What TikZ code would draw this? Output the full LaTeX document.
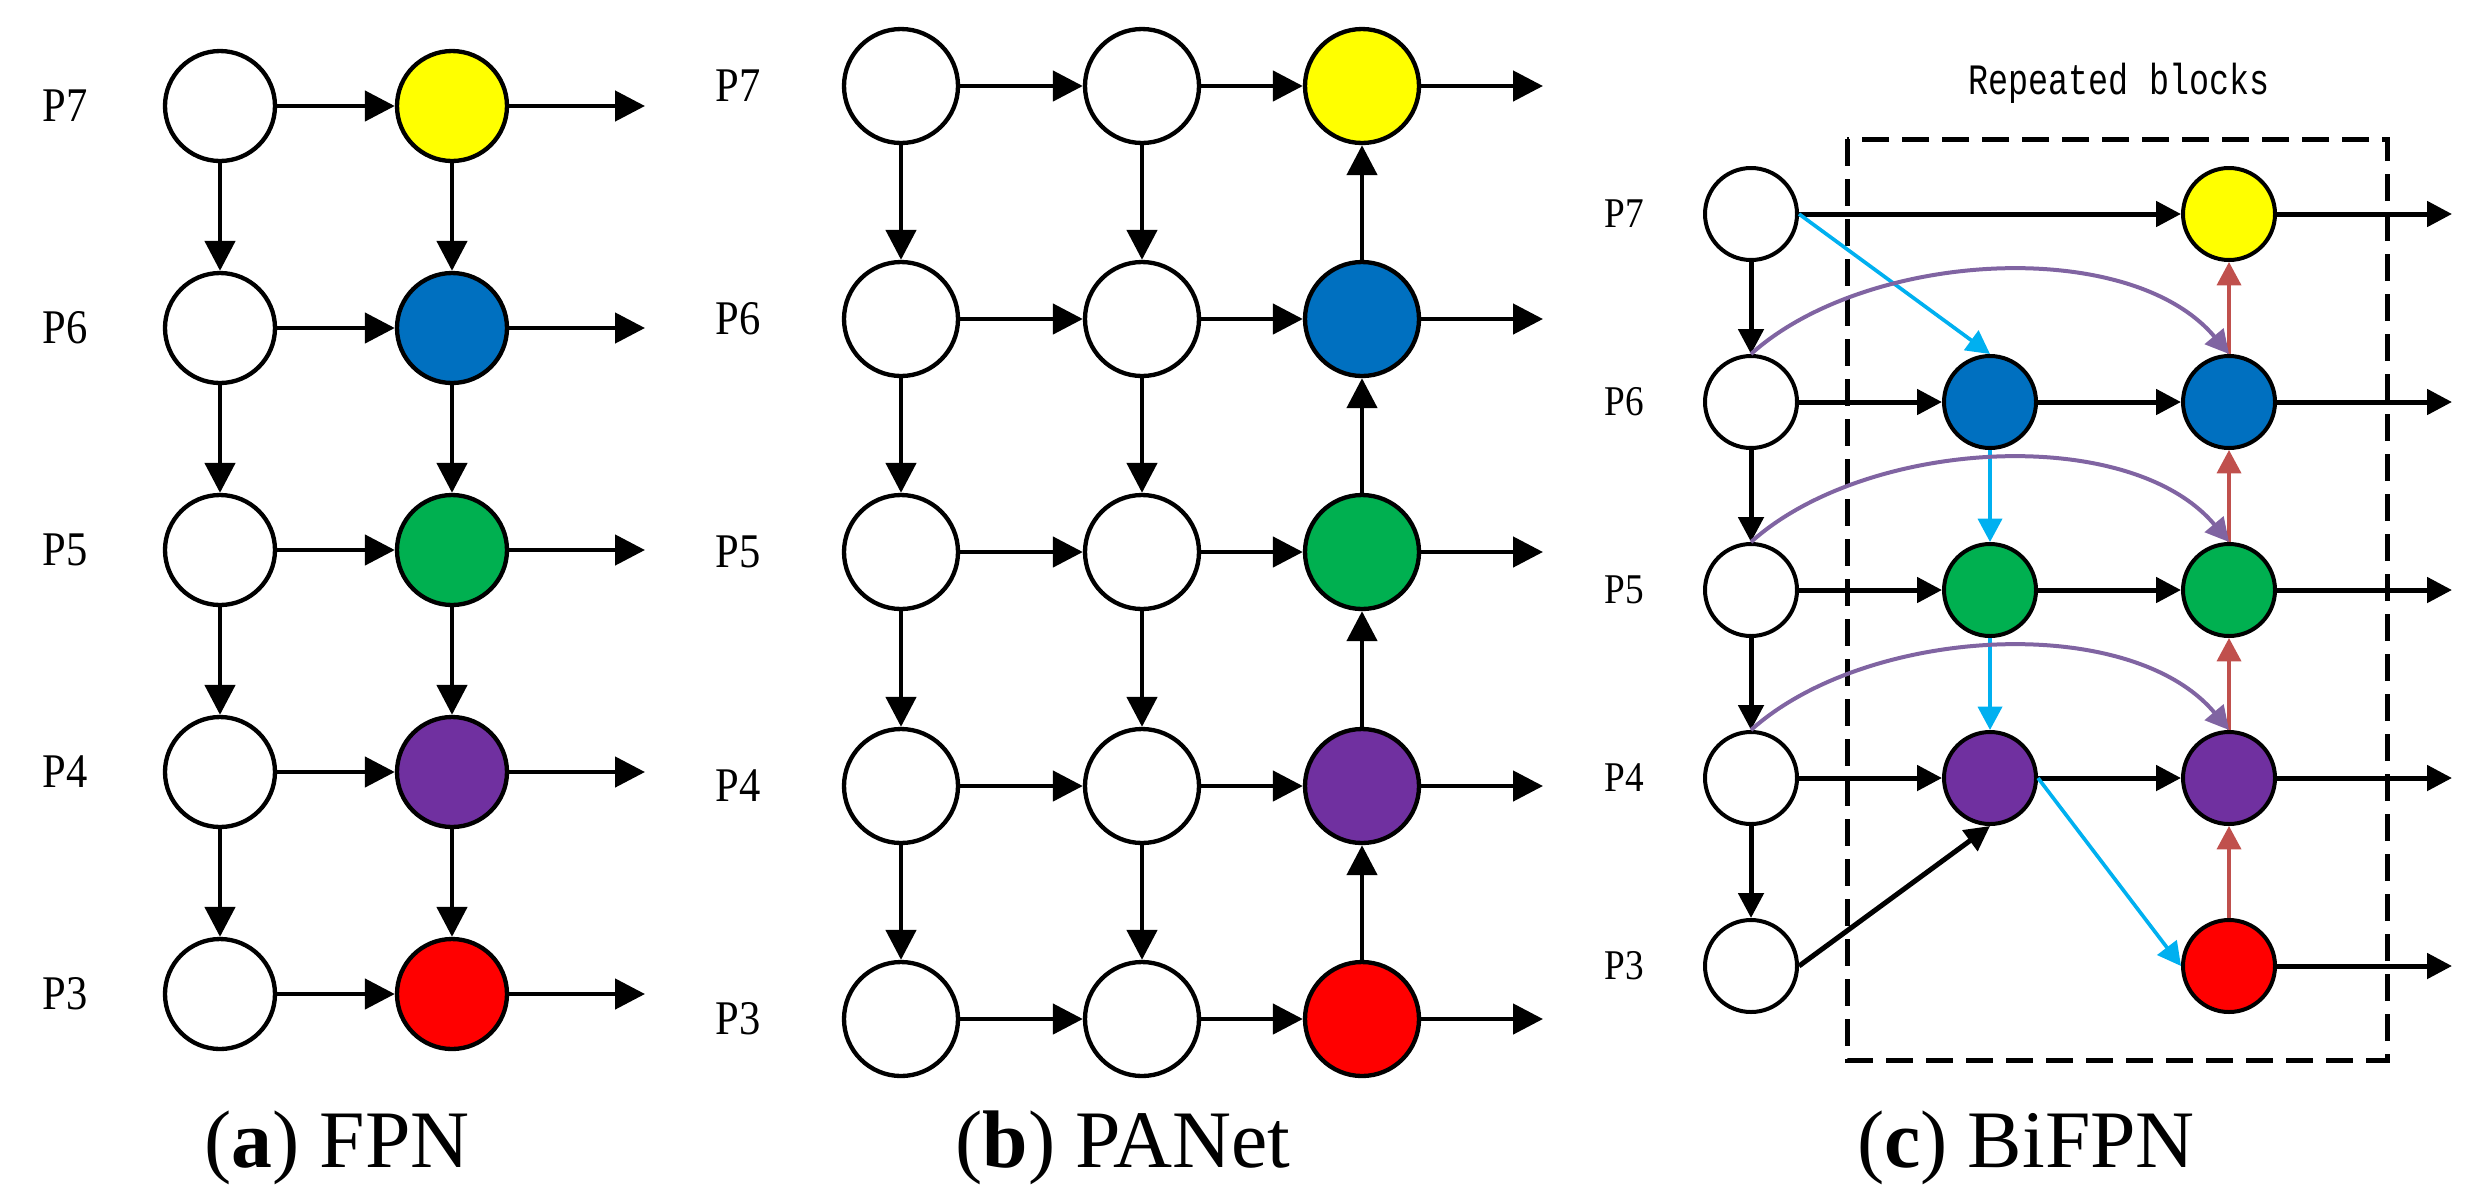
\documentclass[tikz,border=0pt]{standalone}
\usepackage{fontspec}
\setmainfont{Liberation Serif}
\newfontfamily\plabelfont[FakeStretch=0.88]{Liberation Serif}
\newfontfamily\blockfont[FakeStretch=0.77]{Liberation Mono}
\usetikzlibrary{arrows.meta}

\definecolor{fyellow}{RGB}{255,255,0}
\definecolor{fblue}{RGB}{0,112,192}
\definecolor{fgreen}{RGB}{0,176,80}
\definecolor{fpurple}{RGB}{112,48,160}
\definecolor{fred}{RGB}{255,0,0}
\definecolor{lcyan}{RGB}{0,176,240}
\definecolor{lred}{RGB}{192,80,77}
\definecolor{lpurple}{RGB}{128,100,162}

\tikzset{
  anode/.style={circle, draw, line width=1.3pt, minimum size=33pt, inner sep=0pt, fill=white},
  bnode/.style={circle, draw, line width=1.3pt, minimum size=34.2pt, inner sep=0pt, fill=white},
  cnode/.style={circle, draw, line width=1.2pt, minimum size=27.6pt, inner sep=0pt, fill=white},
  link/.style={line width=1.4pt, -{Triangle[length=9pt,width=9pt]}},
  clink/.style={line width=1.5pt, -{Triangle[length=7.5pt,width=7.5pt]}},
  cyanlink/.style={draw=lcyan, line width=1.1pt, -{Triangle[length=7pt,width=7.2pt,fill=lcyan]}},
  redlink/.style={draw=lred, line width=1.1pt, -{Triangle[length=7pt,width=7.2pt,fill=lred]}},
  skiplink/.style={draw=lpurple, line width=1.2pt, -{Triangle[length=7pt,width=7.2pt,fill=lpurple]}},
  plabel/.style={font=\plabelfont\fontsize{14.5}{14.5}\selectfont},
  pclabel/.style={font=\plabelfont\fontsize{12.7}{12.7}\selectfont},
  caption/.style={anchor=base, font=\fontsize{24.5}{24.5}\selectfont}
}

\begin{document}
\begin{tikzpicture}[x=0.3pt,y=0.3pt,yscale=-1,xscale=1]
\useasboundingbox (0,0) rectangle (2477,1201);

%%%%% (a) FPN
% Text Node
\node[plabel] (aP7) at (65,106) {P7};
\node[plabel] (aP6) at (65,328) {P6};
\node[plabel] (aP5) at (65,550) {P5};
\node[plabel] (aP4) at (65,772) {P4};
\node[plabel] (aP3) at (65,994) {P3};
%Shape: Circle
\node[anode] (a17) at (220,106) {};
\node[anode] (a16) at (220,328) {};
\node[anode] (a15) at (220,550) {};
\node[anode] (a14) at (220,772) {};
\node[anode] (a13) at (220,994) {};
\node[anode, fill=fyellow] (a27) at (452,106) {};
\node[anode, fill=fblue] (a26) at (452,328) {};
\node[anode, fill=fgreen] (a25) at (452,550) {};
\node[anode, fill=fpurple] (a24) at (452,772) {};
\node[anode, fill=fred] (a23) at (452,994) {};
\coordinate (ao7) at (645,106);
\coordinate (ao6) at (645,328);
\coordinate (ao5) at (645,550);
\coordinate (ao4) at (645,772);
\coordinate (ao3) at (645,994);
%Straight Lines
\draw[link] (a17) -- (a16);
\draw[link] (a16) -- (a15);
\draw[link] (a15) -- (a14);
\draw[link] (a14) -- (a13);
\draw[link] (a27) -- (a26);
\draw[link] (a26) -- (a25);
\draw[link] (a25) -- (a24);
\draw[link] (a24) -- (a23);
\draw[link] (a17) -- (a27);
\draw[link] (a16) -- (a26);
\draw[link] (a15) -- (a25);
\draw[link] (a14) -- (a24);
\draw[link] (a13) -- (a23);
\draw[link] (a27) -- (ao7);
\draw[link] (a26) -- (ao6);
\draw[link] (a25) -- (ao5);
\draw[link] (a24) -- (ao4);
\draw[link] (a23) -- (ao3);
% Text Node
\node[caption] (acap) at (337,1167) {({\bfseries a}) FPN};

%%%%% (b) PANet
% Text Node
\node[plabel] (bP7) at (738,86) {P7};
\node[plabel] (bP6) at (738,319) {P6};
\node[plabel] (bP5) at (738,552) {P5};
\node[plabel] (bP4) at (738,786) {P4};
\node[plabel] (bP3) at (738,1019) {P3};
%Shape: Circle
\node[bnode] (b17) at (901,86) {};
\node[bnode] (b16) at (901,319) {};
\node[bnode] (b15) at (901,552) {};
\node[bnode] (b14) at (901,786) {};
\node[bnode] (b13) at (901,1019) {};
\node[bnode] (b27) at (1142,86) {};
\node[bnode] (b26) at (1142,319) {};
\node[bnode] (b25) at (1142,552) {};
\node[bnode] (b24) at (1142,786) {};
\node[bnode] (b23) at (1142,1019) {};
\node[bnode, fill=fyellow] (b37) at (1362,86) {};
\node[bnode, fill=fblue] (b36) at (1362,319) {};
\node[bnode, fill=fgreen] (b35) at (1362,552) {};
\node[bnode, fill=fpurple] (b34) at (1362,786) {};
\node[bnode, fill=fred] (b33) at (1362,1019) {};
\coordinate (bo7) at (1543,86);
\coordinate (bo6) at (1543,319);
\coordinate (bo5) at (1543,552);
\coordinate (bo4) at (1543,786);
\coordinate (bo3) at (1543,1019);
%Straight Lines
\draw[link] (b17) -- (b16);
\draw[link] (b16) -- (b15);
\draw[link] (b15) -- (b14);
\draw[link] (b14) -- (b13);
\draw[link] (b27) -- (b26);
\draw[link] (b26) -- (b25);
\draw[link] (b25) -- (b24);
\draw[link] (b24) -- (b23);
\draw[link] (b33) -- (b34);
\draw[link] (b34) -- (b35);
\draw[link] (b35) -- (b36);
\draw[link] (b36) -- (b37);
\draw[link] (b17) -- (b27);
\draw[link] (b16) -- (b26);
\draw[link] (b15) -- (b25);
\draw[link] (b14) -- (b24);
\draw[link] (b13) -- (b23);
\draw[link] (b27) -- (b37);
\draw[link] (b26) -- (b36);
\draw[link] (b25) -- (b35);
\draw[link] (b24) -- (b34);
\draw[link] (b23) -- (b33);
\draw[link] (b37) -- (bo7);
\draw[link] (b36) -- (bo6);
\draw[link] (b35) -- (bo5);
\draw[link] (b34) -- (bo4);
\draw[link] (b33) -- (bo3);
% Text Node
\node[caption] (bcap) at (1123,1167) {({\bfseries b}) PANet};

%%%%% (c) BiFPN
%Shape: Rectangle
\draw[line width=1.5pt, dash pattern=on 8.1pt off 3.9pt] (1847,139) rectangle (2387,1060);
% Text Node
\node[anchor=base, font=\blockfont\fontsize{13}{13}\selectfont] (rep) at (2119,94) {Repeated blocks};
\node[pclabel] (cP7) at (1624,214) {P7};
\node[pclabel] (cP6) at (1624,402) {P6};
\node[pclabel] (cP5) at (1624,590) {P5};
\node[pclabel] (cP4) at (1624,778) {P4};
\node[pclabel] (cP3) at (1624,966) {P3};
%Shape: Circle
\node[cnode] (c17) at (1751,214) {};
\node[cnode] (c16) at (1751,402) {};
\node[cnode] (c15) at (1751,590) {};
\node[cnode] (c14) at (1751,778) {};
\node[cnode] (c13) at (1751,966) {};
\node[cnode, fill=fblue] (c26) at (1990,402) {};
\node[cnode, fill=fgreen] (c25) at (1990,590) {};
\node[cnode, fill=fpurple] (c24) at (1990,778) {};
\node[cnode, fill=fyellow] (c37) at (2229,214) {};
\node[cnode, fill=fblue] (c36) at (2229,402) {};
\node[cnode, fill=fgreen] (c35) at (2229,590) {};
\node[cnode, fill=fpurple] (c34) at (2229,778) {};
\node[cnode, fill=fred] (c33) at (2229,966) {};
\coordinate (co7) at (2452,214);
\coordinate (co6) at (2452,402);
\coordinate (co5) at (2452,590);
\coordinate (co4) at (2452,778);
\coordinate (co3) at (2452,966);
%Straight Lines
\draw[clink] (c17) -- (c16);
\draw[clink] (c16) -- (c15);
\draw[clink] (c15) -- (c14);
\draw[clink] (c14) -- (c13);
\draw[clink] (c17) -- (c37);
\draw[clink] (c16) -- (c26);
\draw[clink] (c26) -- (c36);
\draw[clink] (c15) -- (c25);
\draw[clink] (c25) -- (c35);
\draw[clink] (c14) -- (c24);
\draw[clink] (c24) -- (c34);
\draw[clink] (c13.east) -- (c24.south);
\draw[clink] (c37) -- (co7);
\draw[clink] (c36) -- (co6);
\draw[clink] (c35) -- (co5);
\draw[clink] (c34) -- (co4);
\draw[clink] (c33) -- (co3);
% top-down path
\draw[cyanlink] (c17.east) -- (c26.north);
\draw[cyanlink] (c26) -- (c25);
\draw[cyanlink] (c25) -- (c24);
\draw[cyanlink] (c24.east) -- (c33.west);
% bottom-up path
\draw[redlink] (c33) -- (c34);
\draw[redlink] (c34) -- (c35);
\draw[redlink] (c35) -- (c36);
\draw[redlink] (c36) -- (c37);
%Curve Lines
\draw[skiplink] (c16.north) to[out=-42, in=-130, looseness=0.83] (c36.north);
\draw[skiplink] (c15.north) to[out=-42, in=-130, looseness=0.83] (c35.north);
\draw[skiplink] (c14.north) to[out=-42, in=-130, looseness=0.83] (c34.north);
% Text Node
\node[caption] (ccap) at (2026,1167) {({\bfseries c}) BiFPN};

\end{tikzpicture}
\end{document}
